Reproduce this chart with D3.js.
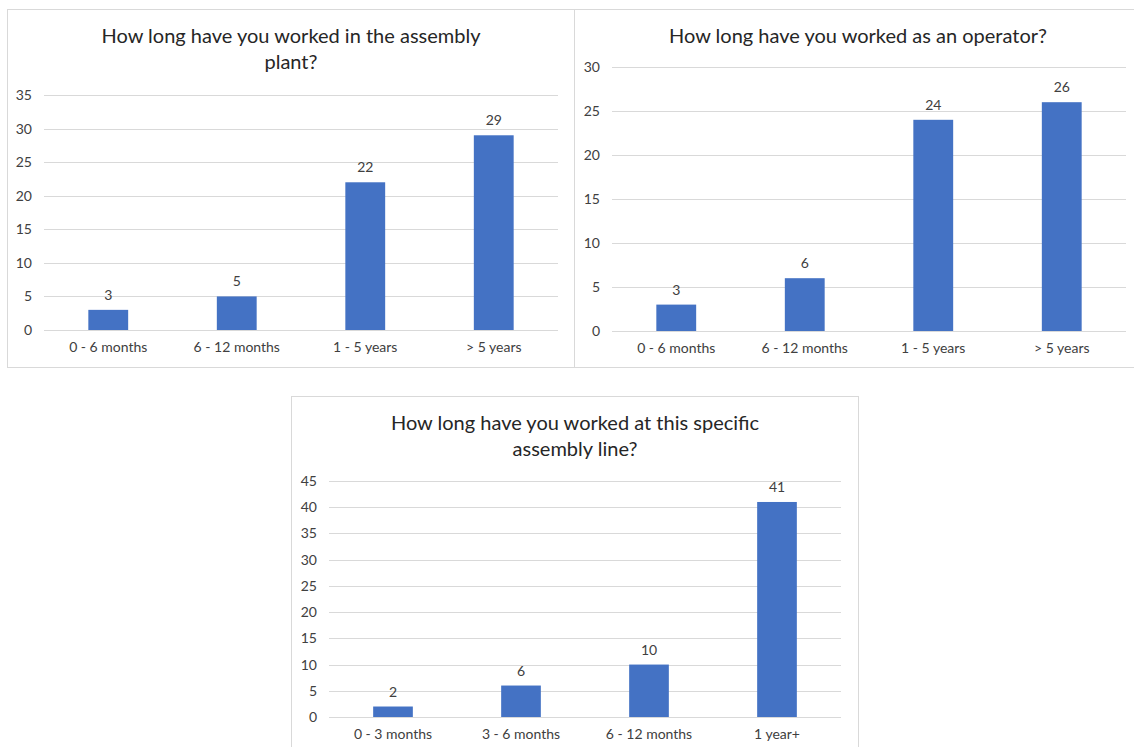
<!DOCTYPE html>
<html>
<head>
<meta charset="utf-8">
<script src="https://cdn.jsdelivr.net/npm/d3@7"></script>
<style>
  body { margin: 0; background: #fff; font-family: Lato, "Open Sans", sans-serif; }
  svg text { fill: #404040; }
</style>
</head>
<body>
<svg id="chart" width="1134" height="747"></svg>
<script>
// chart 1 - assembly plant
const plantCats = ['0 - 6 months', '6 - 12 months', '1 - 5 years', '> 5 years'];
const plantVals = [3, 5, 22, 29];
const plantTicks = [0, 5, 10, 15, 20, 25, 30, 35];

// chart 2 - operator
const operatorCats = ['0 - 6 months', '6 - 12 months', '1 - 5 years', '> 5 years'];
const operatorVals = [3, 6, 24, 26];
const operatorTicks = [0, 5, 10, 15, 20, 25, 30];

// chart 3 - specific line
const lineCats = ['0 - 3 months', '3 - 6 months', '6 - 12 months', '1 year+'];
const lineVals = [2, 6, 10, 41];
const lineTicks = [0, 5, 10, 15, 20, 25, 30, 35, 40, 45];

const svg = d3.select('#chart');

function drawChart(opt) {
  const g = svg.append('g');

  // frame
  g.append('rect')
    .attr('x', opt.frame[0] + 0.5).attr('y', opt.frame[1] + 0.5)
    .attr('width', opt.frame[2]).attr('height', opt.frame[3])
    .attr('fill', '#fff').attr('stroke', '#d9d9d9');

  // title
  const title = g.append('text')
    .attr('text-anchor', 'middle')
    .attr('font-size', 20)
    .style('fill', '#262626');
  opt.title.forEach((t, i) => {
    title.append('tspan')
      .attr('x', opt.titleX)
      .attr('y', opt.titleY + i * 26)
      .text(t);
  });

  const x = d3.scaleBand()
    .domain(opt.cats)
    .range([opt.left, opt.right])
    .paddingInner(0.69)
    .paddingOuter(0.345);

  const y = d3.scaleLinear()
    .domain([0, d3.max(opt.ticks)])
    .range([opt.bottom, opt.top]);

  // gridlines
  g.append('g')
    .selectAll('line')
    .data(opt.ticks)
    .join('line')
    .attr('x1', opt.left).attr('x2', opt.right)
    .attr('y1', d => Math.round(y(d)) + 0.5)
    .attr('y2', d => Math.round(y(d)) + 0.5)
    .attr('stroke', '#d9d9d9');

  // y labels
  const yAxis = g.append('g')
    .attr('transform', `translate(${opt.left - 12},0)`)
    .call(d3.axisLeft(y).tickValues(opt.ticks).tickSize(0).tickPadding(0));
  yAxis.select('.domain').remove();
  yAxis.selectAll('text').attr('font-size', 14).attr('font-family', 'Lato, sans-serif');

  // bars
  g.append('g')
    .selectAll('rect')
    .data(opt.vals)
    .join('rect')
    .attr('x', (d, i) => x(opt.cats[i]))
    .attr('y', d => y(d))
    .attr('width', x.bandwidth())
    .attr('height', d => opt.bottom - y(d))
    .attr('fill', '#4472c4');

  // value labels
  g.append('g')
    .selectAll('text')
    .data(opt.vals)
    .join('text')
    .attr('x', (d, i) => x(opt.cats[i]) + x.bandwidth() / 2)
    .attr('y', d => y(d) - 10)
    .attr('text-anchor', 'middle')
    .attr('font-size', 14)
    .text(d => d);

  // x labels
  const xAxis = g.append('g')
    .attr('transform', `translate(0,${opt.bottom})`)
    .call(d3.axisBottom(x).tickSize(0).tickPadding(12));
  xAxis.select('.domain').remove();
  xAxis.selectAll('text').attr('font-size', 14).attr('font-family', 'Lato, sans-serif');
}

drawChart({
  frame: [7, 9, 567, 358],
  title: ['How long have you worked in the assembly', 'plant?'],
  titleX: 291, titleY: 43,
  cats: plantCats, vals: plantVals, ticks: plantTicks,
  left: 44, right: 558, top: 95, bottom: 330
});

drawChart({
  frame: [574, 9, 560, 358],
  title: ['How long have you worked as an operator?'],
  titleX: 858, titleY: 43,
  cats: operatorCats, vals: operatorVals, ticks: operatorTicks,
  left: 612, right: 1126, top: 67, bottom: 331
});

drawChart({
  frame: [291, 396, 567, 360],
  title: ['How long have you worked at this specific', 'assembly line?'],
  titleX: 575, titleY: 430,
  cats: lineCats, vals: lineVals, ticks: lineTicks,
  left: 329, right: 841, top: 481, bottom: 717
});
</script>
</body>
</html>
